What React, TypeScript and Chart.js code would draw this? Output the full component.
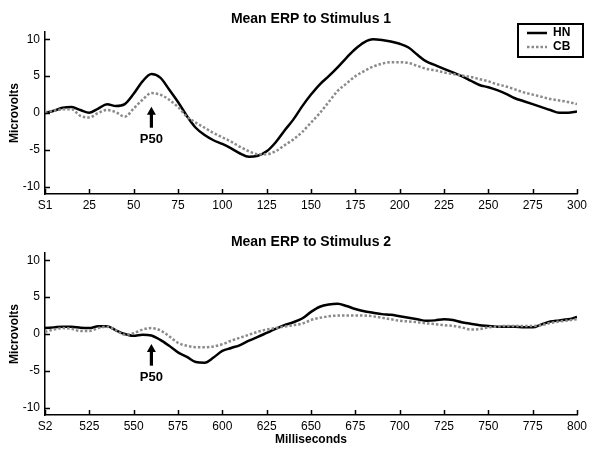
import React, { useEffect, useRef } from "react";
import { Chart, registerables } from "chart.js";
Chart.register(...registerables);

// ---------- data ----------
const TIME1 = [0,5,10,15,20,25,30,35,40,45,50,55,60,65,70,75,80,85,90,95,100,105,110,115,120,125,130,135,140,145,150,155,160,165,170,175,180,185,190,195,200,205,210,215,220,225,230,235,240,245,250,255,260,265,270,275,280,285,290,295,300];
const HN1 = [0,0.3,0.7,0.8,0.4,0.05,0.6,1.2,0.95,1.2,2.6,4.3,5.3,4.8,3.2,1.5,-0.4,-2.0,-3.0,-3.7,-4.2,-4.8,-5.5,-5.95,-5.8,-5.2,-4.0,-2.4,-0.9,0.9,2.5,3.9,5.0,6.2,7.5,8.7,9.6,10.0,9.9,9.7,9.4,8.9,7.9,7.0,6.5,6.0,5.5,5.0,4.4,3.8,3.5,3.1,2.6,2.0,1.6,1.2,0.8,0.4,0.05,0.05,0.2];
const CB1 = [0.1,0.3,0.5,0.5,-0.4,-0.6,0.0,0.4,0.1,-0.5,0.6,1.8,2.7,2.5,1.8,0.8,-0.5,-1.3,-2.0,-2.7,-3.3,-3.9,-4.6,-5.2,-5.6,-5.6,-5.2,-4.4,-3.6,-2.6,-1.3,0.0,1.5,3.0,4.0,5.0,5.7,6.3,6.7,6.9,6.9,6.8,6.4,6.0,5.8,5.5,5.3,5.1,4.9,4.6,4.3,3.9,3.6,3.2,2.8,2.5,2.2,1.9,1.7,1.5,1.2];

const TIME2 = [500,505,510,515,520,525,530,535,540,545,550,555,560,565,570,575,580,585,590,595,600,605,610,615,620,625,630,635,640,645,650,655,660,665,670,675,680,685,690,695,700,705,710,715,720,725,730,735,740,745,750,755,760,765,770,775,780,785,790,795,800];
const HN2 = [0.8,0.9,1.0,1.0,0.85,0.8,1.05,1.05,0.5,0.0,-0.25,-0.1,-0.2,-0.8,-1.6,-2.5,-3.1,-3.8,-3.9,-3.2,-2.3,-1.9,-1.5,-0.9,-0.4,0.15,0.7,1.2,1.6,2.1,3.0,3.7,4.0,4.1,3.8,3.4,3.1,2.9,2.7,2.6,2.4,2.2,2.0,1.8,1.85,2.0,1.9,1.6,1.4,1.2,1.1,1.0,1.0,1.0,0.9,0.9,1.3,1.7,1.85,2.0,2.3];
const CB2 = [0.3,0.6,0.8,0.7,0.4,0.4,0.8,1.0,0.5,-0.1,0.1,0.6,0.8,0.5,-0.3,-1.2,-1.6,-1.8,-1.8,-1.7,-1.4,-0.9,-0.5,-0.1,0.3,0.6,0.8,1.0,1.2,1.4,1.9,2.2,2.4,2.5,2.5,2.5,2.5,2.4,2.2,2.0,1.8,1.7,1.6,1.45,1.35,1.2,1.1,0.9,0.6,0.65,0.9,1.0,1.1,1.1,1.1,1.1,1.2,1.5,1.7,1.85,2.0];

const Y_TICKS = [-10, -5, 0, 5, 10];
const X_TICKS1 = [0, 25, 50, 75, 100, 125, 150, 175, 200, 225, 250, 275, 300];
const X_TICKS2 = [500, 525, 550, 575, 600, 625, 650, 675, 700, 725, 750, 775, 800];
const FIRST_LABEL1 = "S1";
const FIRST_LABEL2 = "S2";
const SERIES_NAMES = ["HN", "CB"];
const TITLE1 = "Mean ERP to Stimulus 1";
const TITLE2 = "Mean ERP to Stimulus 2";
const Y_TITLE = "Microvolts";
const X_TITLE = "Milliseconds";
const P50_TEXT = "P50";
// annotation anchors in data units: [x, arrow tip, arrow tail, text]
const P50_1 = [60, 0.85, -2.0, -3.6];
const P50_2 = [560, -1.35, -4.3, -5.9];

const FONT = "'Liberation Sans', Arial, sans-serif";
const HN_COLOR = "#000000";
const CB_COLOR = "#8a8a8a";

type PanelCfg = {
  time: number[];
  hn: number[];
  cb: number[];
  xTicks: number[];
  firstLabel: string;
  title: string;
  p50: number[];
  legend: boolean;
  xTitle: string | null;
  padTop: number;
  xAxisH: number;
  titleY: number;
  xTitleY: number;
};

const decorPlugin = {
  id: "decor",
  afterDraw(chart: any, _args: any, opts: any) {
    const cfg: PanelCfg = opts.cfg;
    const ctx = chart.ctx as CanvasRenderingContext2D;
    const ca = chart.chartArea;
    const xs = chart.scales.x;
    const ys = chart.scales.y;
    ctx.save();
    ctx.fillStyle = "#000";
    ctx.strokeStyle = "#000";
    ctx.textAlign = "center";
    ctx.textBaseline = "middle";
    // title
    ctx.font = `bold 14px ${FONT}`;
    ctx.fillText(cfg.title, (ca.left + ca.right) / 2, cfg.titleY);
    // y title
    ctx.font = `bold 12px ${FONT}`;
    ctx.save();
    ctx.translate(15, (ca.top + ca.bottom) / 2);
    ctx.rotate(-Math.PI / 2);
    ctx.fillText(Y_TITLE, 0, 0);
    ctx.restore();
    // x title
    if (cfg.xTitle) ctx.fillText(cfg.xTitle, (ca.left + ca.right) / 2, cfg.xTitleY);
    // inward ticks
    ctx.lineWidth = 1.5;
    ctx.beginPath();
    for (const v of Y_TICKS) {
      const py = Math.round(ys.getPixelForValue(v)) + 0.5;
      ctx.moveTo(ca.left, py);
      ctx.lineTo(ca.left + 5, py);
    }
    for (const v of cfg.xTicks) {
      const px = Math.round(xs.getPixelForValue(v)) + 0.5;
      ctx.moveTo(px, ca.bottom);
      ctx.lineTo(px, ca.bottom - 5);
    }
    ctx.stroke();
    // P50 arrow
    const [ax, tip, tail, txt] = cfg.p50;
    const px = xs.getPixelForValue(ax);
    const tipY = ys.getPixelForValue(tip);
    const tailY = ys.getPixelForValue(tail);
    ctx.beginPath();
    ctx.moveTo(px, tipY);
    ctx.lineTo(px - 4.5, tipY + 8);
    ctx.lineTo(px + 4.5, tipY + 8);
    ctx.closePath();
    ctx.fill();
    ctx.fillRect(px - 1.6, tipY + 7, 3.2, tailY - tipY - 7);
    ctx.font = `bold 13px ${FONT}`;
    ctx.fillText(P50_TEXT, px, ys.getPixelForValue(txt));
    // legend
    if (cfg.legend) {
      const bx = 518, by = 24, bw = 65, bh = 33;
      ctx.fillStyle = "#fff";
      ctx.fillRect(bx, by, bw, bh);
      ctx.lineWidth = 2;
      ctx.strokeStyle = "#000";
      ctx.strokeRect(bx, by, bw, bh);
      ctx.lineWidth = 2.5;
      ctx.beginPath();
      ctx.strokeStyle = HN_COLOR;
      ctx.moveTo(527, 33);
      ctx.lineTo(547, 33);
      ctx.stroke();
      ctx.beginPath();
      ctx.strokeStyle = CB_COLOR;
      ctx.setLineDash([2.5, 2]);
      ctx.moveTo(527, 47);
      ctx.lineTo(547, 47);
      ctx.stroke();
      ctx.setLineDash([]);
      ctx.fillStyle = "#000";
      ctx.textAlign = "left";
      ctx.font = `bold 12px ${FONT}`;
      ctx.fillText(SERIES_NAMES[0], 553, 33);
      ctx.fillText(SERIES_NAMES[1], 553, 47);
    }
    ctx.restore();
  },
};

function Panel({ cfg }: { cfg: PanelCfg }) {
  const ref = useRef<HTMLCanvasElement>(null);
  useEffect(() => {
    if (!ref.current) return;
    const chart = new Chart(ref.current, {
      type: "line",
      data: {
        datasets: [
          {
            label: SERIES_NAMES[1],
            data: cfg.time.map((t, i) => ({ x: t, y: cfg.cb[i] })),
            borderColor: CB_COLOR,
            borderWidth: 2.5,
            borderDash: [2.5, 2],
            pointRadius: 0,
            cubicInterpolationMode: "monotone",
            fill: false,
          },
          {
            label: SERIES_NAMES[0],
            data: cfg.time.map((t, i) => ({ x: t, y: cfg.hn[i] })),
            borderColor: HN_COLOR,
            borderWidth: 2.5,
            pointRadius: 0,
            cubicInterpolationMode: "monotone",
            fill: false,
          },
        ],
      },
      options: {
        responsive: false,
        animation: false,
        devicePixelRatio: 1,
        layout: { padding: { top: cfg.padTop, right: 23, left: 0, bottom: 0 } },
        plugins: {
          legend: { display: false },
          tooltip: { enabled: false },
          title: { display: false },
          decor: { cfg },
        } as any,
        scales: {
          x: {
            type: "linear",
            min: cfg.xTicks[0],
            max: cfg.xTicks[cfg.xTicks.length - 1],
            afterBuildTicks: (s: any) => {
              s.ticks = cfg.xTicks.map((v) => ({ value: v }));
            },
            afterFit: (s: any) => {
              s.height = cfg.xAxisH;
            },
            ticks: {
              autoSkip: false,
              maxRotation: 0,
              padding: 4,
              color: "#000",
              font: { family: FONT, size: 12 },
              callback: (v: any) => (v === cfg.xTicks[0] ? cfg.firstLabel : String(v)),
            },
            grid: { display: true, drawOnChartArea: false, drawTicks: false },
            border: { display: true, color: "#000", width: 1.5 },
          },
          y: {
            type: "linear",
            min: -11,
            max: 11,
            afterBuildTicks: (s: any) => {
              s.ticks = Y_TICKS.map((v) => ({ value: v }));
            },
            afterFit: (s: any) => {
              s.width = 45;
            },
            ticks: {
              padding: 5,
              color: "#000",
              font: { family: FONT, size: 12 },
            },
            grid: { display: true, drawOnChartArea: false, drawTicks: false },
            border: { display: true, color: "#000", width: 1.5 },
          },
        },
      },
      plugins: [decorPlugin as any],
    });
    return () => chart.destroy();
  }, [cfg]);
  return <canvas ref={ref} width={600} height={230} style={{ display: "block", width: 600, height: 230 }} />;
}

const PANEL1: PanelCfg = {
  time: TIME1, hn: HN1, cb: CB1, xTicks: X_TICKS1, firstLabel: FIRST_LABEL1, title: TITLE1,
  p50: P50_1, legend: true, xTitle: null, padTop: 32, xAxisH: 36, titleY: 19, xTitleY: 0,
};
const PANEL2: PanelCfg = {
  time: TIME2, hn: HN2, cb: CB2, xTicks: X_TICKS2, firstLabel: FIRST_LABEL2, title: TITLE2,
  p50: P50_2, legend: false, xTitle: X_TITLE, padTop: 23, xAxisH: 45, titleY: 12, xTitleY: 210,
};

export default function App() {
  return (
    <div style={{ position: "absolute", left: 0, top: 0, width: 600, height: 460, background: "#fff" }}>
      <Panel cfg={PANEL1} />
      <Panel cfg={PANEL2} />
    </div>
  );
}
